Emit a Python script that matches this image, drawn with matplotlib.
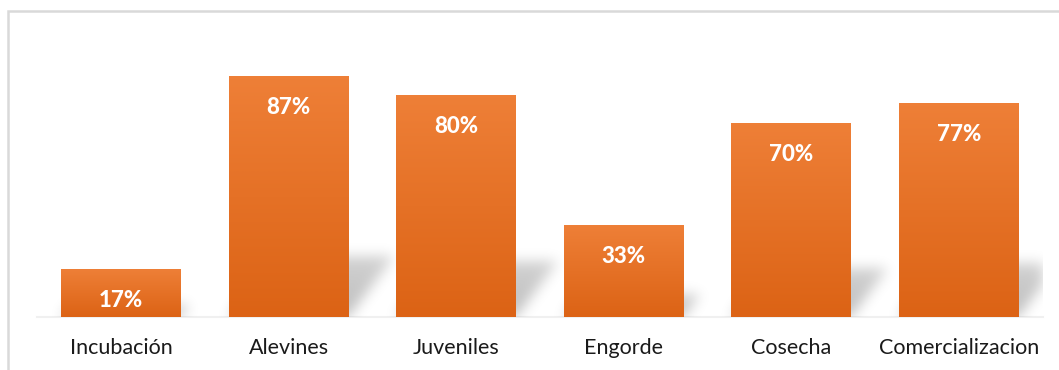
import numpy as np
import matplotlib
matplotlib.use('Agg')
import matplotlib.pyplot as plt
from matplotlib.patches import Rectangle
from matplotlib.colors import LinearSegmentedColormap

etapas = ['Incubación', 'Alevines', 'Juveniles', 'Engorde', 'Cosecha', 'Comercializacion']
porcentajes = [17, 87, 80, 33, 70, 77]
etiquetas = ['17%', '87%', '80%', '33%', '70%', '77%']

ancho = 0.716
ymax = 100.0

fig = plt.figure(figsize=(10.59, 3.70), dpi=100)
ax = fig.add_axes([0.0352, 0.1432, 0.9495, 0.7486])
x = np.arange(len(etapas))
ax.set_xlim(-0.5, len(etapas) - 0.5)
ax.set_ylim(0, ymax)

# sombra en perspectiva detras de cada barra (paralelogramo difuminado)
nx, ny = 1006, 277
pxx = nx / len(etapas)
pxy = ny / ymax
xs = np.linspace(-0.5, len(etapas) - 0.5, nx)
ys = np.linspace(0, ymax, ny)
XX, YY = np.meshgrid(xs, ys)
sombra = np.zeros((ny, nx))
for xi, v in zip(x, porcentajes):
    alto = 0.25 * v
    desp = 0.75 * YY * pxy / pxx
    m = (YY <= alto) & (XX >= xi - ancho / 2 + desp) & (XX <= xi + ancho / 2 + desp)
    sombra = np.maximum(sombra, m * (1 - 0.3 * YY / max(alto, 1e-6)))

k = np.arange(-20, 21)
g = np.exp(-k ** 2 / (2 * 6.5 ** 2))
g /= g.sum()
sombra = np.apply_along_axis(lambda r: np.convolve(r, g, mode='same'), 1, sombra)
sombra = np.apply_along_axis(lambda c: np.convolve(c, g, mode='same'), 0, sombra)
rgba = np.zeros((ny, nx, 4))
rgba[..., 3] = sombra * 0.26
ax.imshow(rgba, extent=[-0.5, len(etapas) - 0.5, 0, ymax], origin='lower',
          aspect='auto', zorder=1, interpolation='bilinear')

# barras con degradado naranja
naranja = LinearSegmentedColormap.from_list('naranja', ['#DC6315', '#EE7F37'])
grad = np.linspace(0, 1, 64).reshape(-1, 1)
for xi, v, txt in zip(x, porcentajes, etiquetas):
    ax.imshow(grad, cmap=naranja, extent=[xi - ancho / 2, xi + ancho / 2, 0, v],
              origin='lower', aspect='auto', zorder=2, interpolation='bilinear')
    ax.annotate(txt, (xi, v), xytext=(0, -31), textcoords='offset pixels',
                ha='center', va='center', color='white', fontsize=16,
                fontweight='black', family='Lato', zorder=3)

ax.set_xlim(-0.5, len(etapas) - 0.5)
ax.set_ylim(0, ymax)
ax.set_xticks(x)
ax.set_xticklabels(etapas, fontsize=15.5, family='Lato', color='#1a1a1a')
ax.tick_params(axis='x', length=0, pad=15)
ax.set_yticks([])
for s in ['top', 'left', 'right']:
    ax.spines[s].set_visible(False)
ax.spines['bottom'].set_color('#f0f0f0')
ax.spines['bottom'].set_linewidth(1.5)
ax.spines['bottom'].set_zorder(0)
ax.patch.set_alpha(0)

# marco del grafico
fig.patches.append(Rectangle((7.5 / 1059, -0.2), 1.2, 1.2 - 10.5 / 370,
                             transform=fig.transFigure, fill=False,
                             edgecolor='#d9d9d9', linewidth=1.8))

fig.savefig('out.png', dpi=100)
